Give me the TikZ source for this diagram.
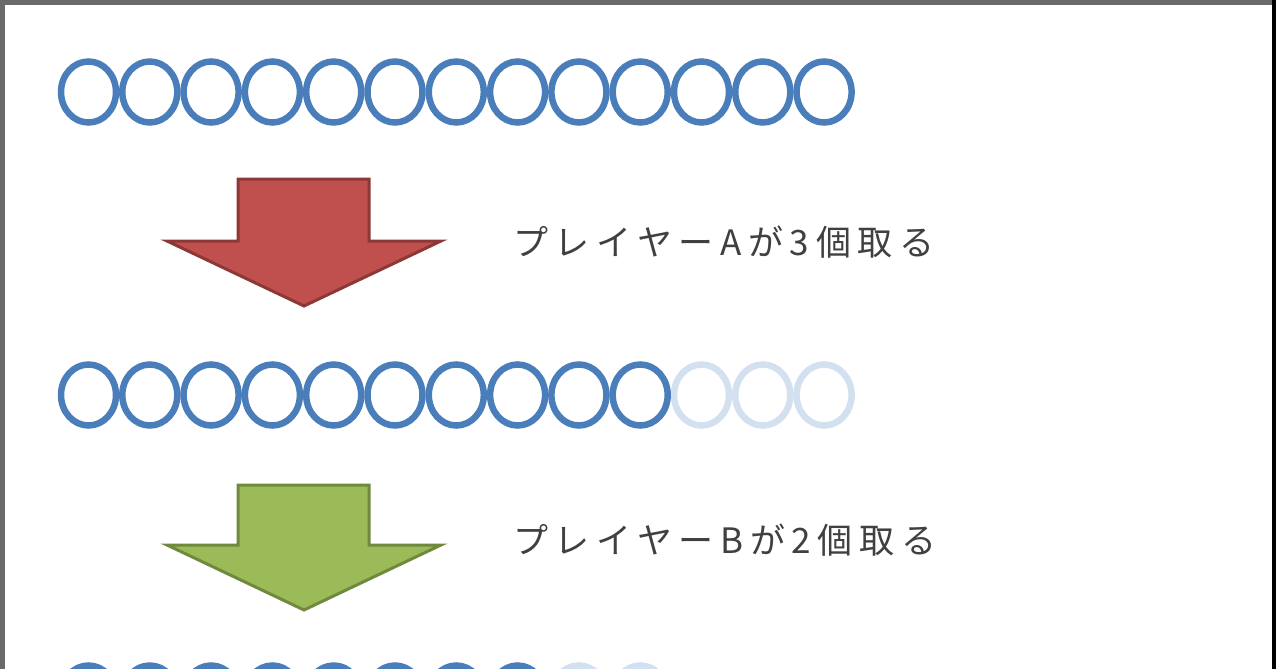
\documentclass[tikz,border=0pt]{standalone}
\usepackage{fontspec}
\newfontfamily\jp[LetterSpace=19]{Noto Sans CJK JP}
\definecolor{ballblue}{HTML}{4A7EBB}
\definecolor{fadeblue}{HTML}{D3E0F0}
\definecolor{redfill}{HTML}{C0504D}
\definecolor{redline}{HTML}{8C3836}
\definecolor{greenfill}{HTML}{9BBB59}
\definecolor{greenline}{HTML}{71893F}
\definecolor{txt}{HTML}{404040}
\definecolor{framegray}{HTML}{6A6A6A}
\tikzset{
  ball/.style={draw=ballblue, line width=6.5pt},
  fadeball/.style={draw=fadeblue, line width=6.5pt},
  lbl/.style={anchor=west, inner sep=0pt, text=txt, font=\jp\fontsize{35}{38}\selectfont},
  redarrow/.style={fill=redfill, draw=redline, line width=3pt, line join=miter},
  greenarrow/.style={fill=greenfill, draw=greenline, line width=3pt, line join=miter}
}
\begin{document}
\begin{tikzpicture}[x=1pt,y=-1pt]
\useasboundingbox (0,0) rectangle (1280,669);
\fill[white] (0,0) rectangle (1280,669);
% frame
\draw[line width=5pt, framegray] (0,2.5) -- (1274,2.5);
\draw[line width=5pt, framegray] (2.5,0) -- (2.5,669);
\draw[line width=4pt, black] (1274,0) -- (1274,669);
% row 1
\foreach \i in {0,...,12}{
  \draw[ball] (88.5+61.3*\i,92) ellipse (27.5 and 30.5);
}
% row 2
\foreach \i in {10,11,12}{
  \draw[fadeball] (88.5+61.3*\i,395) ellipse (27.5 and 30.5);
}
\foreach \i in {0,...,9}{
  \draw[ball] (88.5+61.3*\i,395) ellipse (27.5 and 30.5);
}
% row 3
\foreach \i in {8,9}{
  \draw[fadeball] (88.5+61.3*\i,696) ellipse (27.5 and 30.5);
}
\foreach \i in {0,...,7}{
  \draw[ball] (88.5+61.3*\i,696) ellipse (27.5 and 30.5);
}
% arrows
\draw[redarrow] (238,179) -- (369,179) -- (369,241) -- (441,241) -- (304,306) -- (167,241) -- (238,241) -- cycle;
\draw[greenarrow] (238,485) -- (369,485) -- (369,545) -- (441,545) -- (304,610) -- (167,545) -- (238,545) -- cycle;
% labels
\node[lbl] (la) at (513,242) {プレイヤーAが3個取る};
\node[lbl] (lb) at (513,540) {プレイヤーBが2個取る};
\end{tikzpicture}
\end{document}
